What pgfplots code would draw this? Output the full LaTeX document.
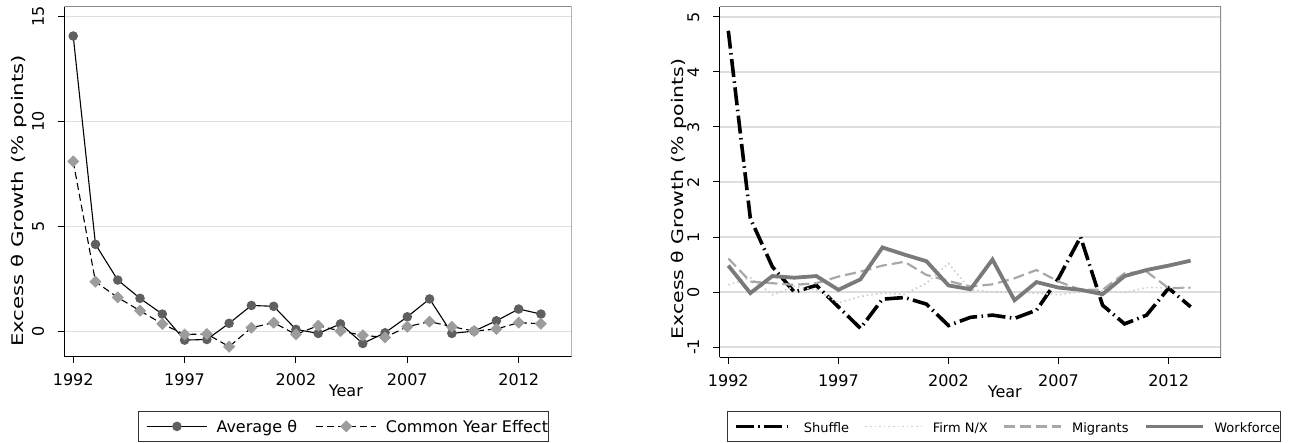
\documentclass[border=0pt]{standalone}
\usepackage{fontspec}
\setmainfont{DejaVu Sans}
\usepackage{graphicx}
\usepackage{pgfplots}
\pgfplotsset{compat=1.18}
\definecolor{gridc}{HTML}{DEDEDE}
\definecolor{framec}{HTML}{8C8C8C}
\definecolor{avgc}{HTML}{5F5F5F}
\definecolor{cyec}{HTML}{9C9C9C}
\definecolor{firmc}{HTML}{CFCFCF}
\definecolor{migc}{HTML}{A8A8A8}
\definecolor{workc}{HTML}{7A7A7A}
\pgfplotsset{
  stata/.style={
    scale only axis,
    anchor=south west,
    axis lines*=left,
    axis line style={black, line width=1.3pt},
    every tick/.style={black, line width=1pt},
    tick align=outside,
    major tick length=6.5pt,
    ymajorgrids,
    grid style={gridc, line width=1.5pt},
    xmin=1991.6, xmax=2014.38,
    xtick={1992,1997,2002,2007,2012},
    xticklabels={1992,1997,2002,2007,2012},
    tick label style={font=\fontsize{16}{19}\selectfont},
    xticklabel style={anchor=base, yshift=-22.6pt, inner sep=0pt},
    yticklabel style={xshift=-14pt, rotate=90, anchor=base, inner sep=0pt},
    xlabel={Year},
    legend columns=-1,
  }
}
\begin{document}
\begin{tikzpicture}
\path[use as bounding box] (0pt,0pt) rectangle (1289pt,442pt);
% ---------------- left panel
\begin{axis}[stata,
  at={(64.3pt,85.3pt)}, width=507.4pt, height=350pt,
  ymin=-1.19, ymax=15.476,
  ytick={0,5,10,15}, yticklabels={0,5,10,15},
  ylabel={\scalebox{1.33}[1]{Excess θ Growth (\% points)}},
  every axis x label/.style={at={(axis description cs:0.555,0)}, anchor=base, yshift=-40pt, font=\fontsize{16}{19}\selectfont},
  every axis y label/.style={at={(axis description cs:-0.0808,0.4454)}, rotate=90, anchor=base, font=\fontsize{16}{19}\selectfont},
  legend image code/.code={\path (-7.7pt,0pt); \draw[mark repeat=2,mark phase=2,#1] plot coordinates {(0pt,0pt) (30pt,0pt) (60pt,0pt)};},
  legend style={at={(axis description cs:0,0)}, anchor=north west, xshift=74pt, yshift=-54.3pt,
    font=\fontsize{16}{19}\selectfont, draw=black!80, line width=0.8pt,
    inner xsep=0pt, inner ysep=5.3pt,
    nodes={inner sep=0pt, text height=15.4pt, text depth=4pt},
    /tikz/every odd column/.append style={column sep=9pt},
    /tikz/every even column/.append style={column sep=11pt}},
]
\draw[framec, line width=1.3pt] (rel axis cs:0,1) -- (rel axis cs:1,1) -- (rel axis cs:1,0);
\addplot[black, line width=1.1pt, mark=*, mark size=4.2pt, mark options={solid, fill=avgc, draw=avgc}] coordinates {
(1992,14.08) (1993,4.16) (1994,2.46) (1995,1.59) (1996,0.84) (1997,-0.40) (1998,-0.37) (1999,0.40)
(2000,1.25) (2001,1.21) (2002,0.11) (2003,-0.08) (2004,0.37) (2005,-0.56) (2006,-0.05) (2007,0.71)
(2008,1.56) (2009,-0.08) (2010,0.03) (2011,0.52) (2012,1.08) (2013,0.84)};
\addlegendentry{Average θ}
\addplot[black, line width=1.1pt, dash pattern=on 7pt off 4pt, mark=square*, mark size=3.7pt, mark options={solid, rotate=45, fill=cyec, draw=cyec}] coordinates {
(1992,8.11) (1993,2.38) (1994,1.63) (1995,1.00) (1996,0.37) (1997,-0.13) (1998,-0.11) (1999,-0.71)
(2000,0.19) (2001,0.43) (2002,-0.13) (2003,0.29) (2004,0.03) (2005,-0.17) (2006,-0.27) (2007,0.24)
(2008,0.48) (2009,0.24) (2010,0.03) (2011,0.13) (2012,0.43) (2013,0.38)};
\addlegendentry{Common Year Effect}
\end{axis}
% ---------------- right panel
\begin{axis}[stata,
  at={(719.5pt,84.7pt)}, width=501.5pt, height=350.6pt,
  ymin=-1.187, ymax=5.187,
  ytick={-1,0,1,2,3,4,5}, yticklabels={-1,0,1,2,3,4,5},
  ylabel={\scalebox{1.28}[1]{Excess θ Growth (\% points)}},
  every axis x label/.style={at={(axis description cs:0.569,0)}, anchor=base, yshift=-40pt, font=\fontsize{16}{19}\selectfont},
  every axis y label/.style={at={(axis description cs:-0.0722,0.4515)}, rotate=90, anchor=base, font=\fontsize{16}{19}\selectfont},
  legend image code/.code={\path (-6pt,0pt); \draw[#1] (0pt,0pt) -- (57pt,0pt);},
  legend style={at={(axis description cs:0,0)}, anchor=north west, xshift=7.8pt, yshift=-53.7pt,
    font=\fontsize{13}{16}\selectfont, draw=black!80, line width=0.8pt,
    inner xsep=0pt, inner ysep=5.3pt,
    nodes={inner sep=0pt, text height=15.4pt, text depth=4pt},
    /tikz/every odd column/.append style={column sep=9.5pt},
    /tikz/every even column/.append style={column sep=9.5pt}},
]
\draw[framec, line width=1.3pt] (rel axis cs:0,1) -- (rel axis cs:1,1) -- (rel axis cs:1,0);
\addplot[black, line width=3.6pt, dash pattern=on 18pt off 4.5pt on 1.5pt off 4.5pt] coordinates {
(1992,4.75) (1993,1.34) (1994,0.46) (1995,0.00) (1996,0.12) (1997,-0.27) (1998,-0.66) (1999,-0.13)
(2000,-0.10) (2001,-0.22) (2002,-0.61) (2003,-0.46) (2004,-0.42) (2005,-0.48) (2006,-0.33) (2007,0.25)
(2008,1.00) (2009,-0.24) (2010,-0.58) (2011,-0.42) (2012,0.07) (2013,-0.27)};
\addlegendentry{Shuffle}
\addplot[firmc, line width=1.7pt, dash pattern=on 1.6pt off 3pt] coordinates {
(1992,0.13) (1993,0.26) (1994,-0.05) (1995,0.10) (1996,0.04) (1997,-0.20) (1998,-0.08) (1999,-0.02)
(2000,-0.04) (2001,0.16) (2002,0.52) (2003,0.04) (2004,0.00) (2005,0.00) (2006,-0.02) (2007,-0.05)
(2008,0.00) (2009,0.02) (2010,-0.01) (2011,0.08) (2012,0.08) (2013,0.08)};
\addlegendentry{Firm N/X}
\addplot[migc, line width=2.2pt, dash pattern=on 11pt off 5pt] coordinates {
(1992,0.61) (1993,0.19) (1994,0.16) (1995,0.13) (1996,0.16) (1997,0.28) (1998,0.37) (1999,0.48)
(2000,0.55) (2001,0.31) (2002,0.20) (2003,0.10) (2004,0.14) (2005,0.25) (2006,0.40) (2007,0.19)
(2008,0.04) (2009,0.04) (2010,0.34) (2011,0.37) (2012,0.07) (2013,0.08)};
\addlegendentry{Migrants}
\addplot[workc, line width=3.8pt] coordinates {
(1992,0.48) (1993,-0.02) (1994,0.29) (1995,0.26) (1996,0.29) (1997,0.04) (1998,0.23) (1999,0.81)
(2000,0.68) (2001,0.56) (2002,0.12) (2003,0.05) (2004,0.59) (2005,-0.15) (2006,0.18) (2007,0.08)
(2008,0.04) (2009,-0.04) (2010,0.29) (2011,0.40) (2012,0.48) (2013,0.57)};
\addlegendentry{Workforce}
\end{axis}
\end{tikzpicture}
\end{document}
